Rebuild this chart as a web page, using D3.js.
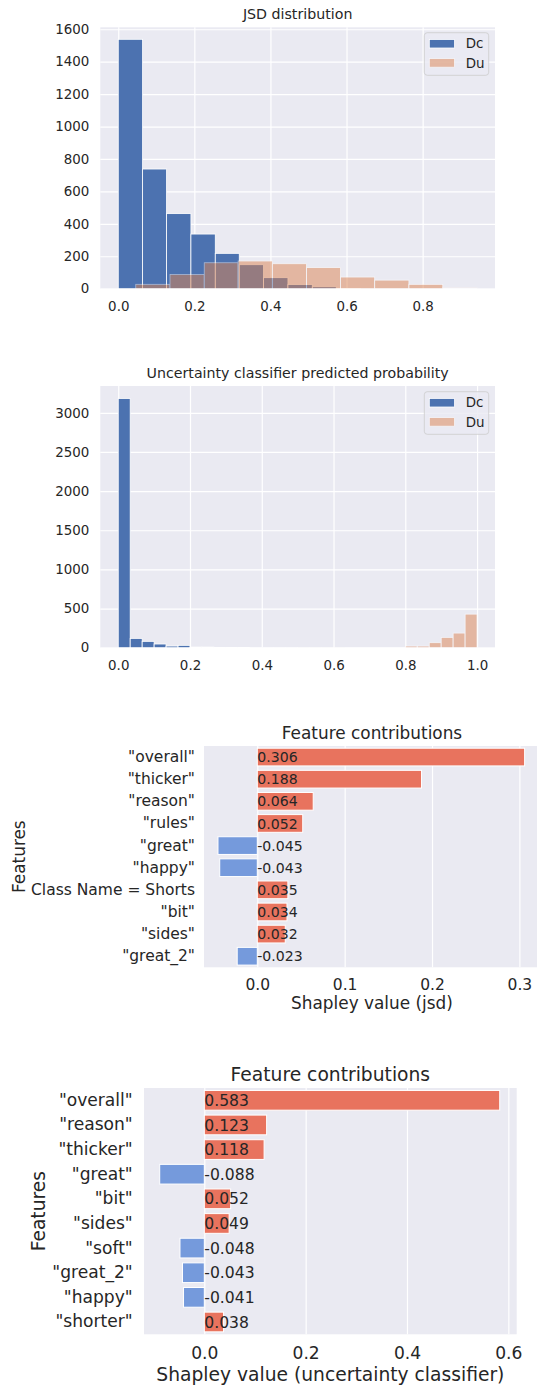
<!DOCTYPE html>
<html><head><meta charset="utf-8">
<script src="https://cdn.jsdelivr.net/npm/d3@7"></script>
<style>
body{margin:0;background:#fff}
svg{display:block}
text{font-family:"DejaVu Sans",sans-serif;fill:#262626}
</style>
</head><body>
<svg id="c" width="537" height="1387"></svg>
<script>
// ---------- data ----------
const seriesNames = ["Dc", "Du"];

// Chart 1: JSD distribution (histogram bin edges + counts)
const jsdDcEdges = [0.000, 0.064, 0.127, 0.191, 0.255, 0.318, 0.382, 0.446, 0.510, 0.573, 0.637];
const jsdDcCounts = [1538, 738, 463, 337, 218, 148, 68, 26, 12, 2];
const jsdDuEdges = [0.046, 0.136, 0.226, 0.315, 0.405, 0.495, 0.584, 0.674, 0.764, 0.853, 0.943];
const jsdDuCounts = [27, 88, 160, 171, 154, 130, 72, 53, 27, 5];
const jsdXTicks = [0.0, 0.2, 0.4, 0.6, 0.8];
const jsdYTicks = [0, 200, 400, 600, 800, 1000, 1200, 1400, 1600];

// Chart 2: uncertainty classifier predicted probability (30 shared bins)
const probEdges = [0.0000, 0.0333, 0.0667, 0.1000, 0.1333, 0.1667, 0.2000, 0.2333, 0.2667, 0.3000,
                   0.3333, 0.3667, 0.4000, 0.4333, 0.4667, 0.5000, 0.5333, 0.5667, 0.6000, 0.6333,
                   0.6667, 0.7000, 0.7333, 0.7667, 0.8000, 0.8333, 0.8667, 0.9000, 0.9333, 0.9667, 1.0000];
const probDcCounts = [3183, 119, 81, 47, 21, 30, 8, 8, 4, 2, 2, 1, 1, 1, 1, 0, 0, 0, 0, 0, 0, 0, 0, 0, 0, 0, 0, 0, 0, 0];
const probDuCounts = [0, 0, 0, 0, 0, 0, 0, 0, 0, 0, 0, 0, 0, 0, 0, 1, 1, 1, 1, 2, 2, 2, 3, 4, 21, 21, 64, 132, 187, 429];
const probXTicks = [0.0, 0.2, 0.4, 0.6, 0.8, 1.0];
const probYTicks = [0, 500, 1000, 1500, 2000, 2500, 3000];

// Chart 3: Shapley values (jsd)
const jsdFeatures = ['"overall"', '"thicker"', '"reason"', '"rules"', '"great"', '"happy"', 'Class Name = Shorts', '"bit"', '"sides"', '"great_2"'];
const jsdShap = [0.306, 0.188, 0.064, 0.052, -0.045, -0.043, 0.035, 0.034, 0.032, -0.023];
const jsdShapTicks = [0.0, 0.1, 0.2, 0.3];

// Chart 4: Shapley values (uncertainty classifier)
const ucFeatures = ['"overall"', '"reason"', '"thicker"', '"great"', '"bit"', '"sides"', '"soft"', '"great_2"', '"happy"', '"shorter"'];
const ucShap = [0.583, 0.123, 0.118, -0.088, 0.052, 0.049, -0.048, -0.043, -0.041, 0.038];
const ucShapTicks = [0.0, 0.2, 0.4, 0.6];

// ---------- styles ----------
const BG = "#EAEAF2", DC = "#4C72B0", DU = "#DD8452", POS = "#E8735E", NEG = "#759ADC";
const svg = d3.select("#c");

function gridAndBg(g, L, R, T, B, x, y, xTicks, yTicks) {
  g.append("rect").attr("x", L).attr("y", T).attr("width", R - L).attr("height", B - T).attr("fill", BG);
  if (xTicks) {
    const gx = g.append("g").attr("transform", `translate(0,${B})`)
      .call(d3.axisBottom(x).tickValues(xTicks).tickSize(-(B - T)).tickFormat(""));
    gx.select(".domain").remove();
    gx.selectAll("line").attr("stroke", "#fff").attr("stroke-width", 1.2);
  }
  if (yTicks) {
    const gy = g.append("g").attr("transform", `translate(${L},0)`)
      .call(d3.axisLeft(y).tickValues(yTicks).tickSize(-(R - L)).tickFormat(""));
    gy.select(".domain").remove();
    gy.selectAll("line").attr("stroke", "#fff").attr("stroke-width", 1.2);
  }
}

function histogram(c) {
  const g = svg.append("g");
  const x = d3.scaleLinear().domain(c.xDomain).range([c.L, c.R]);
  const y = d3.scaleLinear().domain(c.yDomain).range([c.B, c.T]);
  gridAndBg(g, c.L, c.R, c.T, c.B, x, y, c.xTicks, c.yTicks);
  c.series.forEach(s => {
    const sg = g.append("g").attr("opacity", s.alpha);
    sg.selectAll("rect").data(s.counts).join("rect")
      .attr("x", (d, i) => x(s.edges[i]))
      .attr("width", (d, i) => x(s.edges[i + 1]) - x(s.edges[i]))
      .attr("y", d => y(d))
      .attr("height", d => y(0) - y(d))
      .attr("fill", s.color)
      .attr("stroke", d => d > 0 ? "#fff" : "none").attr("stroke-width", 0.8);
  });
  // tick labels
  const ax = g.append("g").attr("transform", `translate(0,${c.B})`)
    .call(d3.axisBottom(x).tickValues(c.xTicks).tickSize(0).tickPadding(12.5).tickFormat(d3.format(".1f")));
  ax.select(".domain").remove();
  ax.selectAll("text").style("font-size", c.tickFont + "px").attr("fill", "#262626");
  const ay = g.append("g").attr("transform", `translate(${c.L},0)`)
    .call(d3.axisLeft(y).tickValues(c.yTicks).tickSize(0).tickPadding(11).tickFormat(d3.format("d")));
  ay.select(".domain").remove();
  ay.selectAll("text").style("font-size", c.tickFont + "px").attr("fill", "#262626");
  // title
  g.append("text").attr("x", (c.L + c.R) / 2).attr("y", c.titleY).attr("text-anchor", "middle")
    .style("font-size", c.titleFont + "px").text(c.title);
  // legend
  const lx = c.legend.x, ly = c.legend.y;
  g.append("rect").attr("x", lx).attr("y", ly).attr("width", 64.4).attr("height", 42.6)
    .attr("rx", 3).attr("fill", BG).attr("fill-opacity", 0.8)
    .attr("stroke", "#cccccc").attr("stroke-opacity", 0.8).attr("stroke-width", 1);
  c.series.forEach((s, i) => {
    const cy = ly + 11 + i * 19.2;
    g.append("rect").attr("x", lx + 5).attr("y", cy - 4.3).attr("width", 25.3).attr("height", 8.6)
      .attr("fill", s.color).attr("opacity", s.alpha).attr("stroke", "#fff").attr("stroke-width", 0.8);
    g.append("text").attr("x", lx + 41.5).attr("y", cy).attr("dy", "0.35em")
      .style("font-size", c.tickFont + "px").text(s.name);
  });
}

function barChart(c) {
  const g = svg.append("g");
  const x = d3.scaleLinear().domain(c.xDomain).range([c.L, c.R]);
  const y = d3.scaleBand().domain(c.features).range([c.T, c.B]).paddingInner(0.2).paddingOuter(0.1);
  gridAndBg(g, c.L, c.R, c.T, c.B, x, y, c.xTicks, null);
  const data = c.features.map((f, i) => ({ f, v: c.values[i] }));
  g.append("g").selectAll("rect").data(data).join("rect")
    .attr("x", d => x(Math.min(0, d.v)))
    .attr("width", d => Math.abs(x(d.v) - x(0)))
    .attr("y", d => y(d.f))
    .attr("height", y.bandwidth())
    .attr("fill", d => d.v >= 0 ? POS : NEG)
    .attr("stroke", "#fff").attr("stroke-width", 1);
  g.append("g").selectAll("text").data(data).join("text")
    .attr("x", x(0)).attr("y", d => y(d.f) + y.bandwidth() / 2).attr("dy", "0.36em")
    .style("font-size", c.valFont + "px").text(d => d.v.toFixed(3));
  const ax = g.append("g").attr("transform", `translate(0,${c.B})`)
    .call(d3.axisBottom(x).tickValues(c.xTicks).tickSize(0).tickPadding(c.xPad).tickFormat(d3.format(".1f")));
  ax.select(".domain").remove();
  ax.selectAll("text").style("font-size", c.tickFont + "px").attr("fill", "#262626");
  const ay = g.append("g").attr("transform", `translate(${c.L},0)`)
    .call(d3.axisLeft(y).tickSize(0).tickPadding(c.yPad));
  ay.select(".domain").remove();
  ay.selectAll("text").style("font-size", c.tickFont + "px").attr("fill", "#262626");
  g.append("text").attr("x", (c.L + c.R) / 2).attr("y", c.titleY).attr("text-anchor", "middle")
    .style("font-size", c.labelFont + "px").text("Feature contributions");
  g.append("text").attr("x", (c.L + c.R) / 2).attr("y", c.xLabelY).attr("text-anchor", "middle")
    .style("font-size", c.labelFont + "px").text(c.xLabel);
  g.append("text").attr("transform", `translate(${c.yLabelX},${(c.T + c.B) / 2}) rotate(-90)`)
    .attr("text-anchor", "middle").style("font-size", c.labelFont + "px").text("Features");
}

histogram({
  L: 100.3, R: 495, T: 27.3, B: 288.7,
  xDomain: [-0.0472, 0.9902], yDomain: [0, 1612],
  xTicks: jsdXTicks, yTicks: jsdYTicks,
  tickFont: 13.4, titleFont: 14.2, titleY: 19.3, title: "JSD distribution",
  legend: { x: 424.3, y: 32.7 },
  series: [
    { name: seriesNames[0], edges: jsdDcEdges, counts: jsdDcCounts, color: DC, alpha: 1 },
    { name: seriesNames[1], edges: jsdDuEdges, counts: jsdDuCounts, color: DU, alpha: 0.5 }
  ]
});

histogram({
  L: 100.3, R: 495, T: 386, B: 647.7,
  xDomain: [-0.05, 1.05], yDomain: [0, 3342],
  xTicks: probXTicks, yTicks: probYTicks,
  tickFont: 13.4, titleFont: 14.2, titleY: 378.3, title: "Uncertainty classifier predicted probability",
  legend: { x: 424.3, y: 391.7 },
  series: [
    { name: seriesNames[0], edges: probEdges, counts: probDcCounts, color: DC, alpha: 1 },
    { name: seriesNames[1], edges: probEdges, counts: probDuCounts, color: DU, alpha: 0.5 }
  ]
});

barChart({
  L: 204, R: 540, T: 746, B: 967.3,
  xDomain: [-0.061, 0.3236], xTicks: jsdShapTicks,
  features: jsdFeatures, values: jsdShap,
  tickFont: 15.5, labelFont: 16.9, valFont: 14.1,
  xPad: 11.4, yPad: 9,
  titleY: 739.3, xLabelY: 1009.3, yLabelX: 25,
  xLabel: "Shapley value (jsd)"
});

barChart({
  L: 144, R: 516.7, T: 1088, B: 1334.3,
  xDomain: [-0.119, 0.6165], xTicks: ucShapTicks,
  features: ucFeatures, values: ucShap,
  tickFont: 17.1, labelFont: 18.7, valFont: 15.6,
  xPad: 12.6, yPad: 11.3,
  titleY: 1080.7, xLabelY: 1381, yLabelX: 45,
  xLabel: "Shapley value (uncertainty classifier)"
});
</script>
</body></html>
